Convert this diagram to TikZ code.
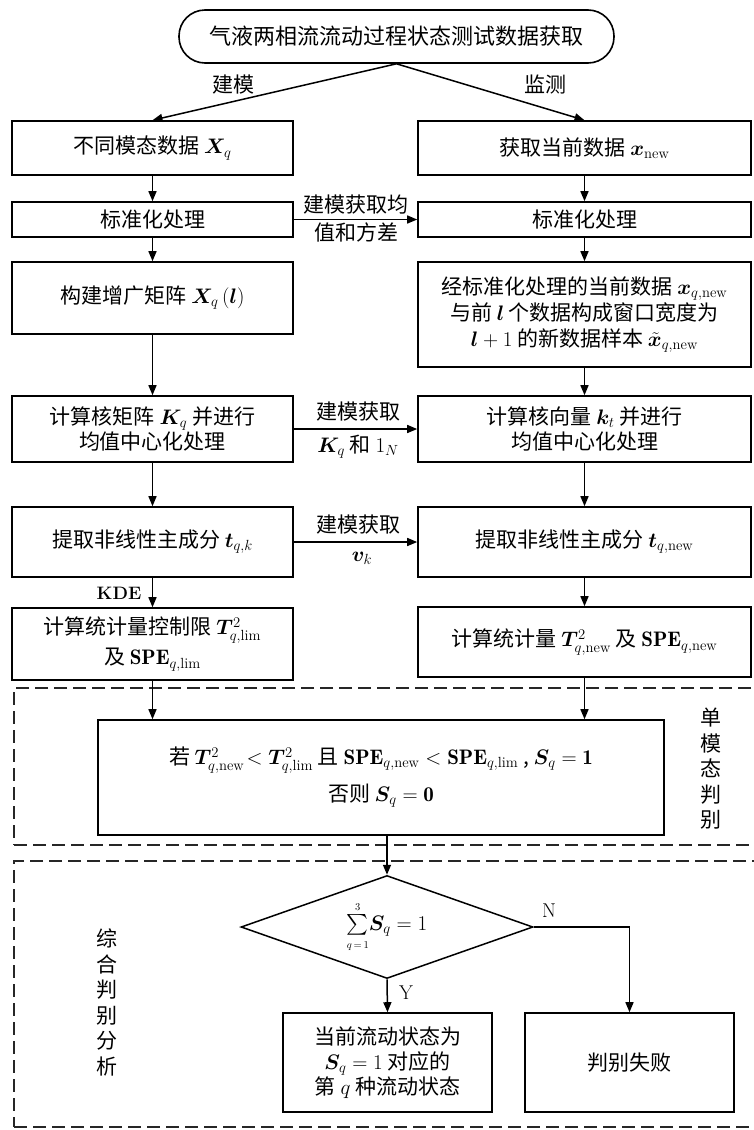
\RequirePackage{fix-cm}
\documentclass[tikz,border=0pt]{standalone}
\usepackage{amsmath}
\usepackage{bm}
\usepackage{fontspec}
\newfontfamily\cjk{Noto Sans CJK SC}
\usetikzlibrary{shapes.geometric,arrows.meta}
\newcommand\cjkbig{\cjk\fontsize{21}{25}\selectfont}
\newcommand\cjktop{\cjk\fontsize{22}{26}\selectfont}
\tikzset{
  box/.style={draw, line width=1.6pt, align=center, inner sep=0pt, font=\cjkbig},
  arr/.style={line width=1.5pt, -{Triangle[length=10pt,width=8pt]}},
  lbl/.style={inner sep=0pt, align=center, font=\cjkbig},
  vlbl/.style={inner sep=0pt, align=center, font=\cjk\fontsize{21}{25.5}\selectfont},
  frame/.style={draw=black!85, line width=1.6pt, dash pattern=on 13pt off 6pt, inner sep=0pt},
}
\begin{document}
\begin{tikzpicture}[x=1pt,y=-1pt]
\useasboundingbox (0,0) rectangle (753,1130);
% dashed frames
\node[frame, minimum width=746pt, minimum height=157pt] (g1) at (387,766.5) {};
\node[frame, minimum width=746pt, minimum height=266pt] (g2) at (387,994) {};
% top
\node[box, rounded corners=26pt, minimum width=435pt, minimum height=53pt, font=\cjktop] (top) at (396.5,36.5) {气液两相流流动过程状态测试数据获取};
% row 1
\node[box, minimum width=281pt, minimum height=54pt] (a1) at (152.5,148) {不同模态数据 $\bm X_q$};
\node[box, minimum width=333pt, minimum height=54pt] (b1) at (584.5,148) {获取当前数据 $\bm x_{\mathrm{new}}$};
% row 2
\node[box, minimum width=281pt, minimum height=35pt] (a2) at (152.5,219.5) {标准化处理};
\node[box, minimum width=333pt, minimum height=35pt] (b2) at (584.5,219.5) {标准化处理};
% row 3
\node[box, minimum width=281pt, minimum height=72pt] (a3) at (152.5,298) {构建增广矩阵 $\bm X_q\,(\bm l)$};
\node[box, minimum width=333pt, minimum height=105pt, font=\cjk\fontsize{21}{26}\selectfont] (b3) at (584.5,314.5) {经标准化处理的当前数据 $\bm x_{q,\mathrm{new}}$\\与前 $\bm l$ 个数据构成窗口宽度为\\$\bm l+1$ 的新数据样本 $\tilde{\bm x}_{q,\mathrm{new}}$};
% row 4
\node[box, minimum width=281pt, minimum height=66pt] (a4) at (152.5,429) {计算核矩阵 $\bm K_q$ 并进行\\均值中心化处理};
\node[box, minimum width=333pt, minimum height=66pt] (b4) at (584.5,429) {计算核向量 $\bm k_t$ 并进行\\均值中心化处理};
% row 5
\node[box, minimum width=281pt, minimum height=70pt] (a5) at (152.5,542) {提取非线性主成分 $\bm t_{q,k}$};
\node[box, minimum width=333pt, minimum height=70pt] (b5) at (584.5,542) {提取非线性主成分 $\bm t_{q,\mathrm{new}}$};
% row 6
\node[box, minimum width=281pt, minimum height=72pt, font=\cjk\fontsize{21}{30}\selectfont] (a6) at (152.5,644) {计算统计量控制限 $\bm T^{2}_{q,\mathrm{lim}}$\\及 $\mathbf{SPE}_{q,\mathrm{lim}}$};
\node[box, minimum width=333pt, minimum height=70pt] (b6) at (584.5,642) {计算统计量 $\bm T^{2}_{q,\mathrm{new}}$ 及 $\mathbf{SPE}_{q,\mathrm{new}}$};
% single-mode judgement
\node[box, minimum width=566pt, minimum height=115pt, font=\cjk\fontsize{21}{37}\selectfont] (in) at (381,777.5) {若 $\bm T^{2}_{q,\mathrm{new}}\!<\bm T^{2}_{q,\mathrm{lim}}$ 且 $\mathbf{SPE}_{q,\mathrm{new}}<\mathbf{SPE}_{q,\mathrm{lim}}$ , $\bm S_q=\mathbf 1$\\否则 $\bm S_q=\mathbf 0$};
% decision
\node[draw, line width=1.5pt, diamond, shape aspect=2.8, minimum width=292pt, minimum height=103pt, inner sep=0pt, font=\fontsize{21}{25}\selectfont] (dia) at (387,927) {$\mathop{\textstyle\sum}\limits_{\scriptscriptstyle q\,=\,1}^{\scriptscriptstyle 3}\!\bm S_q=1$};
\node[box, minimum width=209pt, minimum height=99pt] (c) at (387.5,1062.5) {当前流动状态为\\$\bm S_q=1$ 对应的\\第 $q$ 种流动状态};
\node[box, minimum width=209pt, minimum height=99pt] (d) at (629.5,1062.5) {判别失败};
% labels
\node[lbl] (l1) at (233,85) {建模};
\node[lbl] (l2) at (545,85) {监测};
\node[lbl, font=\cjk\fontsize{21}{28}\selectfont] (l3) at (356,219) {建模获取均\\值和方差};
\node[lbl] (l4a) at (358,412) {建模获取};
\node[lbl] (l4b) at (358,447) {$\bm K_q$ 和 $1_N$};
\node[lbl] (l5a) at (358,525) {建模获取};
\node[lbl] (l5b) at (362,558) {$\bm v_k$};
\node[inner sep=0pt, font=\fontsize{18}{20}\selectfont\bfseries] (kde) at (119,593) {KDE};
\node[inner sep=0pt, font=\fontsize{20}{22}\selectfont] (ln) at (549,911) {N};
\node[inner sep=0pt, font=\fontsize{20}{22}\selectfont] (ly) at (406,993) {Y};
\node[vlbl] (v1) at (711,769) {单\\模\\态\\判\\别};
\node[vlbl] (v2) at (107,1002.5) {综\\合\\判\\别\\分\\析};
% connectors
\draw[arr] (top.south) -- (a1.north);
\draw[arr] (top.south) -- (b1.north);
\draw[arr] (a1) -- (a2);
\draw[arr] (b1) -- (b2);
\draw[arr] (a2) -- (a3);
\draw[arr] (b2) -- (b3);
\draw[arr] (a3) -- (a4);
\draw[arr] (b3) -- (b4);
\draw[arr] (a4) -- (a5);
\draw[arr] (b4) -- (b5);
\draw[arr] (a5) -- (a6);
\draw[arr] (b5) -- (b6);
\draw[arr] (a2.east) -- (b2.west);
\draw[arr] (a4.east) -- (b4.west);
\draw[arr] (a5.east) -- (b5.west);
\draw[arr] (a6.south) -- (a6.south |- in.north);
\draw[arr] (b6.south) -- (b6.south |- in.north);
\draw[arr] (dia.north |- in.south) -- (dia.north);
\draw[arr] (dia.south) -- (c.north);
\draw[arr] (dia.east) -| (d.north);
\end{tikzpicture}
\end{document}
